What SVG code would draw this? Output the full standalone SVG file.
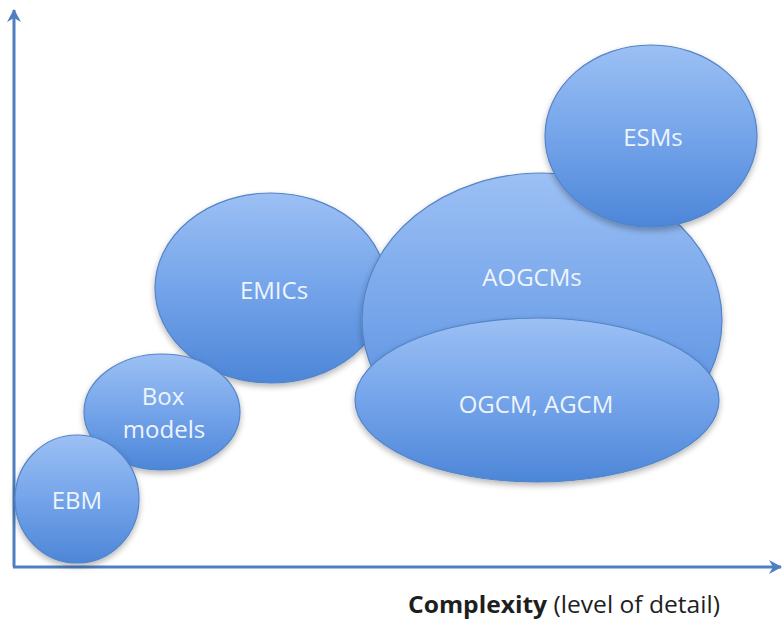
<svg xmlns="http://www.w3.org/2000/svg" width="784" height="620" viewBox="0 0 784 620">
  <defs>
    <linearGradient id="blue" x1="0" y1="0" x2="0" y2="1">
      <stop offset="0" stop-color="#9cc0f4"/>
      <stop offset="0.5" stop-color="#74a4ea"/>
      <stop offset="1" stop-color="#4d86d8"/>
    </linearGradient>
    <filter id="shadow" x="-20%" y="-20%" width="140%" height="140%">
      <feGaussianBlur in="SourceAlpha" stdDeviation="3"/>
      <feOffset dx="0" dy="3" result="b"/>
      <feComponentTransfer><feFuncA type="linear" slope="0.3"/></feComponentTransfer>
      <feMerge><feMergeNode/><feMergeNode in="SourceGraphic"/></feMerge>
    </filter>
    <marker id="arrow" viewBox="0 0 14 14" refX="12" refY="7" markerWidth="14" markerHeight="14" markerUnits="userSpaceOnUse" orient="auto">
      <path d="M0,0 L13,7 L0,14 L4,7 z" fill="#4f7fc0"/>
    </marker>
  </defs>
  <style>
    .node ellipse { fill: url(#blue); stroke: #5384c8; stroke-width: 1.2; filter: url(#shadow); }
    .node text { font-family: "Open Sans", "DejaVu Sans", sans-serif; font-size: 24px; fill: #eef4fc; text-anchor: middle; }
    .axis { stroke: #4f7fc0; stroke-width: 3; fill: none; }
    .caption { font-family: "Open Sans", "DejaVu Sans", sans-serif; font-size: 24px; fill: #1e1e1e; }
  </style>
  <rect width="784" height="620" fill="#ffffff"/>

  <g id="connectors">
    <line class="axis" x1="14" y1="567" x2="14" y2="10" marker-end="url(#arrow)"/>
    <line class="axis" x1="13" y1="567" x2="781" y2="567" marker-end="url(#arrow)"/>
  </g>

  <g id="EMICs" class="node">
    <ellipse cx="271" cy="288" rx="116" ry="95"/>
    <text x="274" y="299">EMICs</text>
  </g>
  <g id="BoxModels" class="node">
    <ellipse cx="162" cy="412" rx="78" ry="58"/>
    <text x="163" y="405">Box</text>
    <text x="164" y="438">models</text>
  </g>
  <g id="EBM" class="node">
    <ellipse cx="77" cy="499" rx="62" ry="64"/>
    <text x="77" y="509">EBM</text>
  </g>
  <g id="AOGCMs" class="node">
    <ellipse cx="542" cy="320" rx="180" ry="147"/>
    <text x="532" y="286">AOGCMs</text>
  </g>
  <g id="OGCM_AGCM" class="node">
    <ellipse cx="537" cy="400" rx="182" ry="82"/>
    <text x="536" y="413">OGCM, AGCM</text>
  </g>
  <g id="ESMs" class="node">
    <ellipse cx="651" cy="136" rx="106" ry="91"/>
    <text x="653" y="146">ESMs</text>
  </g>

  <text class="caption" x="408" y="613" textLength="312" lengthAdjust="spacingAndGlyphs"><tspan font-weight="bold">Complexity</tspan> (level of detail)</text>
</svg>
